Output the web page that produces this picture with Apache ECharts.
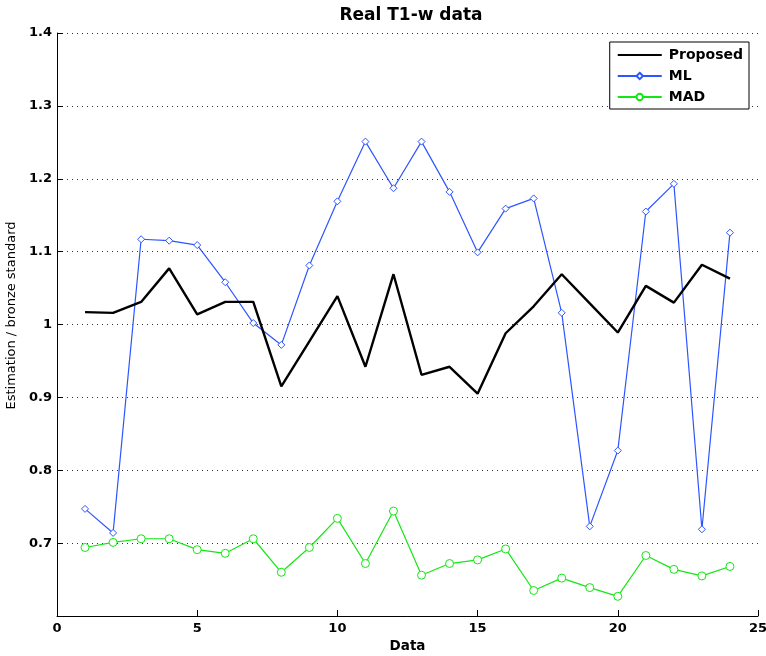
<!DOCTYPE html>
<html>
<head>
<meta charset="utf-8">
<script src="https://cdn.jsdelivr.net/npm/echarts@6/dist/echarts.min.js"></script>
<style>
html,body{margin:0;padding:0;background:#fff;}
#c{width:766px;height:656px;}
</style>
</head>
<body>
<div id="c"></div>
<script>
const dataIdx = [1,2,3,4,5,6,7,8,9,10,11,12,13,14,15,16,17,18,19,20,21,22,23,24];
const proposed = [1.017,1.016,1.031,1.077,1.014,1.031,1.031,0.915,0.977,1.039,0.942,1.069,0.931,0.942,0.905,0.988,1.025,1.069,1.029,0.989,1.053,1.030,1.082,1.063];
const ml = [0.747,0.714,1.117,1.115,1.109,1.058,1.002,0.972,1.081,1.169,1.251,1.187,1.251,1.182,1.099,1.159,1.173,1.016,0.723,0.827,1.155,1.193,0.719,1.126];
const mad = [0.694,0.701,0.706,0.706,0.691,0.686,0.706,0.660,0.694,0.734,0.672,0.744,0.656,0.672,0.677,0.692,0.635,0.652,0.639,0.627,0.683,0.664,0.655,0.668];
const seriesNames = ['Proposed','ML','MAD'];
const xTicks = {min:0,max:25,interval:5};
const yTicks = {min:0.6,max:1.4,interval:0.1};

const pair = arr => dataIdx.map((x,i)=>[x,arr[i]]);
const font = 'DejaVu Sans, Liberation Sans, Arial, sans-serif';
const BLUE = '#2d55ff';
const GREEN = '#14e614';

const chart = echarts.init(document.getElementById('c'), null, {renderer:'canvas'});
chart.setOption({
  animation:false,
  backgroundColor:'#fff',
  title:{
    text:'Real T1-w data', left:406, top:2, textAlign:'center',
    textStyle:{fontFamily:font,fontWeight:'bold',fontSize:17,color:'#000'}
  },
  legend:{
    orient:'vertical', right:17, top:42,
    backgroundColor:'#fff', borderColor:'#000', borderWidth:1, borderRadius:0,
    padding:[5,6,4,7], itemGap:5, itemWidth:44, itemHeight:8,
    textStyle:{fontFamily:font,fontWeight:'bold',fontSize:14,color:'#000',lineHeight:16,padding:[0,0,0,2]},
    data:[
      {name:seriesNames[0], itemStyle:{opacity:0}},
      {name:seriesNames[1]},
      {name:seriesNames[2]}
    ]
  },
  grid:{left:57,right:8,top:33,bottom:40,containLabel:false,outerBoundsMode:'none'},
  xAxis:{
    type:'value', min:xTicks.min, max:xTicks.max, interval:xTicks.interval,
    name:'Data', nameLocation:'middle', nameGap:21,
    nameTextStyle:{fontFamily:font,fontWeight:'bold',fontSize:13.5,color:'#000'},
    axisLine:{show:true,onZero:false,lineStyle:{color:'#000',width:1}},
    axisTick:{show:true,inside:true,length:6,lineStyle:{color:'#000'}},
    axisLabel:{fontFamily:font,fontWeight:'bold',fontSize:13,color:'#000',margin:6},
    splitLine:{show:false}
  },
  yAxis:{
    type:'value', min:yTicks.min, max:yTicks.max, interval:yTicks.interval,
    name:'Estimation / bronze standard', nameLocation:'middle', nameGap:36,
    nameTextStyle:{fontFamily:font,fontSize:13,color:'#000',padding:[0,0,0,18]},
    axisLine:{show:true,onZero:false,lineStyle:{color:'#000',width:1}},
    axisTick:{show:true,inside:true,length:6,lineStyle:{color:'#000'}},
    axisLabel:{fontFamily:font,fontWeight:'bold',fontSize:13,color:'#000',margin:5,
      formatter:v=>{const r=Math.round(v*10)/10; if(r<=0.6) return ''; return r===1?'1':r.toFixed(1);}},
    splitLine:{show:true,lineStyle:{color:'#333',type:[1,4],width:1}}
  },
  series:[
    {name:'Proposed',type:'line',data:pair(proposed),showSymbol:false,symbol:'none',
     lineStyle:{color:'#000',width:2.4},itemStyle:{color:'#000'},z:3},
    {name:'ML',type:'line',data:pair(ml),symbol:'diamond',symbolSize:7,
     lineStyle:{color:BLUE,width:1.2},
     itemStyle:{color:'#fff',borderColor:BLUE,borderWidth:1},z:2},
    {name:'MAD',type:'line',data:pair(mad),symbol:'circle',symbolSize:8,
     lineStyle:{color:GREEN,width:1.2},
     itemStyle:{color:'#fff',borderColor:GREEN,borderWidth:1},z:2}
  ]
});
</script>
</body>
</html>
